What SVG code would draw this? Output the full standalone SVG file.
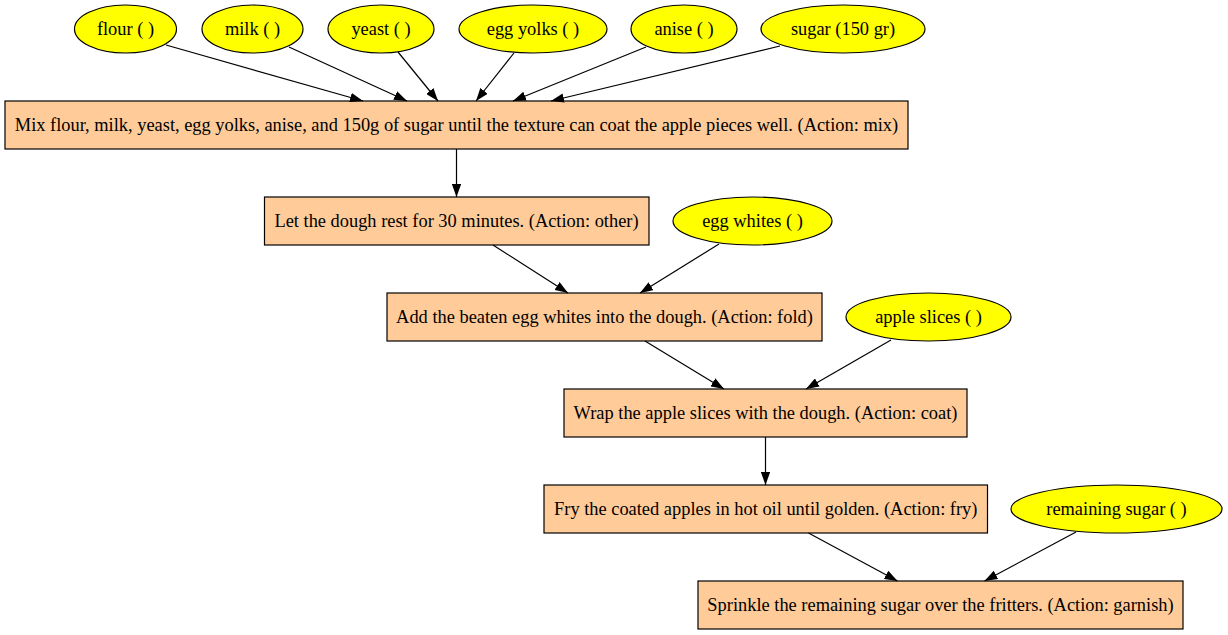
<svg xmlns="http://www.w3.org/2000/svg" width="1228" height="635" viewBox="0 0 1228 635">
<style>
  .step rect { fill: #ffcc99; stroke: #000; stroke-width: 1.2; }
  .ing ellipse { fill: #ffff00; stroke: #000; stroke-width: 1.2; }
  text { font-family: "Liberation Serif", "Times New Roman", serif; font-size: 18.4px; fill: #000; text-anchor: middle; }
  .edges line { stroke: #000; stroke-width: 1.2; marker-end: url(#arr); }
</style>
<defs>
  <marker id="arr" viewBox="0 0 13 9.4" refX="13" refY="4.7" markerWidth="13" markerHeight="9.4" markerUnits="userSpaceOnUse" orient="auto">
    <path d="M0,0 L13,4.7 L0,9.4 z" fill="#000"/>
  </marker>
</defs>
<rect width="1228" height="635" fill="#fff"/>

<g id="flour" class="ing"><ellipse cx="125.5" cy="29" rx="51" ry="24"/><text x="125.5" y="35">flour ( )</text></g>
<g id="milk" class="ing"><ellipse cx="252.5" cy="29" rx="50.5" ry="24"/><text x="252.5" y="35">milk ( )</text></g>
<g id="yeast" class="ing"><ellipse cx="381" cy="29" rx="53" ry="24"/><text x="381" y="35">yeast ( )</text></g>
<g id="egg_yolks" class="ing"><ellipse cx="533" cy="29" rx="74" ry="24"/><text x="533" y="35">egg yolks ( )</text></g>
<g id="anise" class="ing"><ellipse cx="684" cy="29" rx="53" ry="24"/><text x="684" y="35">anise ( )</text></g>
<g id="sugar" class="ing"><ellipse cx="843" cy="29" rx="82" ry="24"/><text x="843" y="35">sugar (150 gr)</text></g>

<g id="mix" class="step"><rect x="5" y="101" width="903" height="48"/><text x="456.5" y="131">Mix flour, milk, yeast, egg yolks, anise, and 150g of sugar until the texture can coat the apple pieces well. (Action: mix)</text></g>
<g id="rest" class="step"><rect x="264.5" y="197" width="384.5" height="48"/><text x="456.5" y="227">Let the dough rest for 30 minutes. (Action: other)</text></g>
<g id="egg_whites" class="ing"><ellipse cx="752.5" cy="221" rx="79.5" ry="24"/><text x="752.5" y="227">egg whites ( )</text></g>
<g id="fold" class="step"><rect x="387" y="293" width="435" height="48"/><text x="604.5" y="323">Add the beaten egg whites into the dough. (Action: fold)</text></g>
<g id="apple_slices" class="ing"><ellipse cx="928.5" cy="317" rx="82.5" ry="24"/><text x="928.5" y="323">apple slices ( )</text></g>
<g id="coat" class="step"><rect x="564" y="389" width="403" height="48"/><text x="765.5" y="419">Wrap the apple slices with the dough. (Action: coat)</text></g>
<g id="fry" class="step"><rect x="544" y="485" width="443.5" height="48"/><text x="765.75" y="515">Fry the coated apples in hot oil until golden. (Action: fry)</text></g>
<g id="remaining_sugar" class="ing"><ellipse cx="1116.5" cy="509" rx="105.5" ry="24"/><text x="1116.5" y="515">remaining sugar ( )</text></g>
<g id="garnish" class="step"><rect x="698" y="581" width="485" height="48"/><text x="940.5" y="611">Sprinkle the remaining sugar over the fritters. (Action: garnish)</text></g>

<g id="connectors" class="edges">
  <line x1="166" y1="45" x2="363" y2="101"/>
  <line x1="289" y1="47" x2="407" y2="101"/>
  <line x1="398" y1="52" x2="438" y2="101"/>
  <line x1="514" y1="53" x2="476" y2="101"/>
  <line x1="646" y1="47" x2="513" y2="101"/>
  <line x1="780" y1="46" x2="551" y2="101"/>
  <line x1="456.5" y1="149" x2="456.5" y2="197"/>
  <line x1="493" y1="245" x2="568" y2="293"/>
  <line x1="719" y1="244" x2="640" y2="293"/>
  <line x1="645" y1="341" x2="724" y2="389"/>
  <line x1="891" y1="340" x2="806" y2="389"/>
  <line x1="765.5" y1="437" x2="765.5" y2="485"/>
  <line x1="808.5" y1="533" x2="897.5" y2="581"/>
  <line x1="1076" y1="532" x2="984.5" y2="581"/>
</g>
</svg>
